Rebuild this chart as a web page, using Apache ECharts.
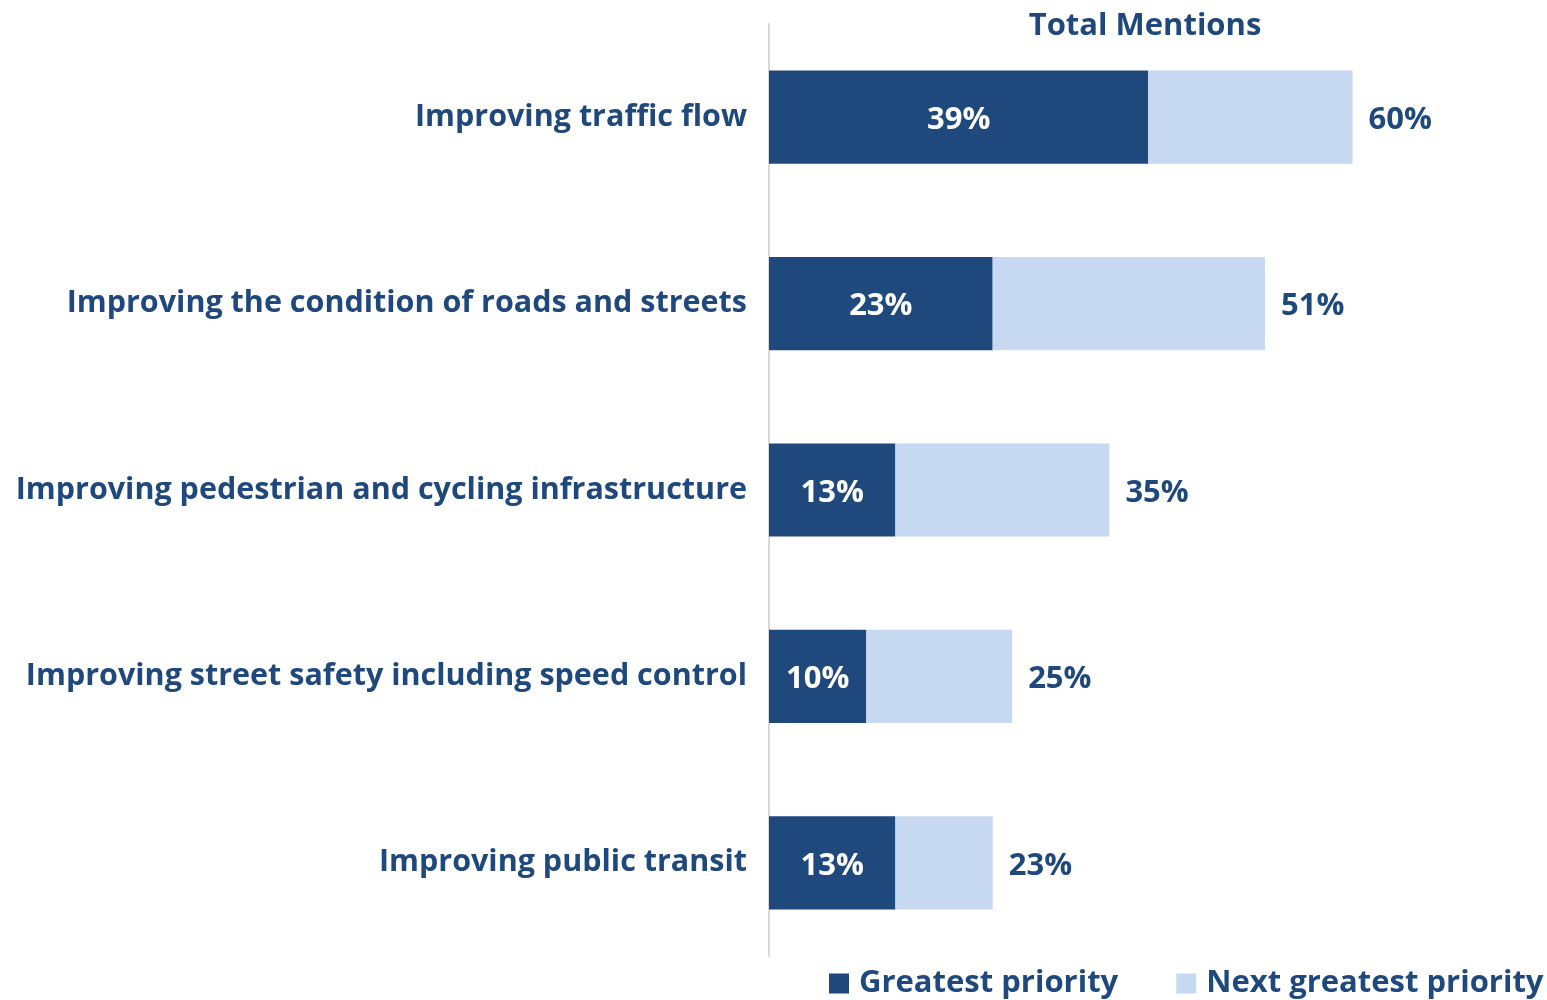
<!DOCTYPE html>
<html>
<head>
<meta charset="utf-8">
<script src="https://cdn.jsdelivr.net/npm/echarts@6/dist/echarts.min.js"></script>
<style>
  html, body { margin: 0; padding: 0; background: #fff; }
  #main { width: 1547px; height: 1000px; }
</style>
</head>
<body>
<div id="main"></div>
<script>
// categories, top to bottom
var categories = [
  'Improving traffic flow',
  'Improving the condition of roads and streets',
  'Improving pedestrian and cycling infrastructure',
  'Improving street safety including speed control',
  'Improving public transit'
];
var greatest = [39, 23, 13, 10, 13];      // Greatest priority
var totals = [60, 51, 35, 25, 23];        // Total Mentions
var nextGreatest = totals.map(function (t, i) { return t - greatest[i]; });

var DARK = '#1F497D';
var LIGHT = '#C6D9F1';
var FONT = 'Open Sans';

var chart = echarts.init(document.getElementById('main'));
chart.setOption({
  animation: false,
  textStyle: { fontFamily: FONT },
  title: {
    text: 'Total Mentions',
    left: 1140, top: 6,
    textAlign: 'center',
    textStyle: { color: DARK, fontSize: 31, fontWeight: 'bold', fontFamily: FONT }
  },
  legend: {
    top: 968, left: 829,
    padding: 0,
    itemWidth: 20, itemHeight: 20, itemGap: 58,
    icon: 'rect',
    textStyle: { color: DARK, fontSize: 31, fontWeight: 'bold', fontFamily: FONT, padding: [0, 0, 0, 5] },
    data: ['Greatest priority', 'Next greatest priority']
  },
  grid: { left: 769, top: 24, width: 778, height: 932, containLabel: false },
  xAxis: {
    type: 'value', min: 0, max: 80,
    show: false
  },
  yAxis: {
    type: 'category',
    inverse: true,
    data: categories,
    axisLine: { show: true, lineStyle: { color: '#D9D9D9', width: 2 } },
    axisTick: { show: false },
    axisLabel: {
      margin: 22, color: DARK, fontSize: 30.5, fontWeight: 'bold', fontFamily: FONT,
      padding: [6, 0, 0, 0]
    }
  },
  series: [
    {
      name: 'Greatest priority',
      type: 'bar', stack: 'all',
      barWidth: '50%',
      data: greatest,
      itemStyle: { color: DARK },
      label: {
        show: true, position: 'inside', offset: [0, 3],
        formatter: '{c}%',
        color: '#fff', fontSize: 31, fontWeight: 'bold', fontFamily: FONT
      }
    },
    {
      name: 'Next greatest priority',
      type: 'bar', stack: 'all',
      barWidth: '50%',
      data: nextGreatest,
      itemStyle: { color: LIGHT },
      label: {
        show: true, position: 'right', distance: 16, offset: [0, 3],
        formatter: function (p) { return totals[p.dataIndex] + '%'; },
        color: DARK, fontSize: 31, fontWeight: 'bold', fontFamily: FONT
      }
    }
  ]
});
</script>
</body>
</html>
